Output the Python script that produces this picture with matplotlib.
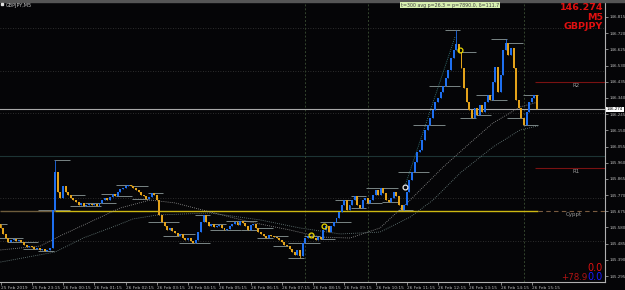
import numpy as np
import matplotlib
matplotlib.use("Agg")
import matplotlib.pyplot as plt
import matplotlib.transforms as mtransforms

# GBPJPY M5, 25 Feb 22:15 -> 26 Feb 15:25, one close per bar (12 bars per hour)
closes = [
    145.577, 145.542, 145.518, 145.495, 145.506, 145.512, 145.501, 145.506, 145.495, 145.477, 145.465, 145.471,
    145.465, 145.454, 145.460, 145.448, 145.454, 145.442, 145.448, 145.460, 145.683, 145.906, 145.788, 145.753,
    145.823, 145.788, 145.771, 145.753, 145.741, 145.729, 145.712, 145.724, 145.706, 145.712, 145.718, 145.712,
    145.718, 145.706, 145.724, 145.741, 145.753, 145.741, 145.759, 145.776, 145.765, 145.788, 145.806, 145.812,
    145.823, 145.829, 145.823, 145.812, 145.800, 145.788, 145.771, 145.765, 145.747, 145.759, 145.782, 145.771,
    145.741, 145.653, 145.612, 145.589, 145.565, 145.577, 145.559, 145.548, 145.530, 145.542, 145.518, 145.506,
    145.518, 145.501, 145.489, 145.506, 145.553, 145.612, 145.653, 145.612, 145.589, 145.600, 145.583, 145.589,
    145.595, 145.577, 145.565, 145.571, 145.589, 145.600, 145.612, 145.595, 145.618, 145.606, 145.589, 145.565,
    145.595, 145.600, 145.577, 145.553, 145.542, 145.530, 145.518, 145.536, 145.530, 145.524, 145.518, 145.506,
    145.495, 145.477, 145.471, 145.454, 145.436, 145.418, 145.448, 145.413, 145.489, 145.518, 145.530, 145.524,
    145.518, 145.506, 145.524, 145.512, 145.565, 145.589, 145.553, 145.589, 145.612, 145.636, 145.671, 145.712,
    145.741, 145.683, 145.712, 145.741, 145.765, 145.712, 145.694, 145.741, 145.753, 145.724, 145.741, 145.771,
    145.800, 145.771, 145.812, 145.782, 145.741, 145.729, 145.753, 145.788, 145.765, 145.712, 145.683, 145.712,
    145.788, 145.859, 145.906, 145.964, 146.023, 146.035, 146.093, 146.152, 146.181, 146.222, 146.269, 146.316,
    146.340, 146.375, 146.410, 146.457, 146.504, 146.575, 146.622, 146.657, 146.610, 146.516, 146.399, 146.316,
    146.269, 146.222, 146.281, 146.240, 146.299, 146.258, 146.316, 146.357, 146.328, 146.434, 146.522, 146.375,
    146.475, 146.622, 146.663, 146.592, 146.633, 146.516, 146.328, 146.281, 146.222, 146.181, 146.258, 146.316,
    146.340, 146.357, 146.274,
]
first_open = 145.600
wick_highs = {21: 145.976, 175: 146.739, 194: 146.686, 0: 145.600}
wick_lows = {115: 145.401, 20: 145.460}

# moving averages (bar, price)
fast_ma_bars = [0, 15.2, 22.8, 34.4, 45.9, 57.4, 67, 80.5, 95.8, 111.2, 122.7, 134.2, 145.7, 157.3, 170, 180.3, 189.1, 199.5, 206.4]
fast_ma_vals = [145.448, 145.471, 145.530, 145.612, 145.694, 145.741, 145.724, 145.671, 145.612, 145.565, 145.524,
                145.518, 145.577, 145.741, 145.935, 146.076, 146.193, 146.287, 146.316]
slow_ma_bars = [0, 21, 31.7, 42.1, 50.9, 60.1, 80.5, 99.7, 115, 130.4, 145.7, 157.3, 166.1, 176.5, 189.1, 199.5, 206.4]
slow_ma_vals = [145.377, 145.436, 145.518, 145.577, 145.630, 145.653, 145.665, 145.624, 145.577, 145.542, 145.553,
                145.641, 145.741, 145.900, 146.052, 146.152, 146.176]

zigzag_bars = [155.3, 174.5]
zigzag_vals = [145.823, 146.698]

yellow_marks = [(119.3, 145.536), (124.2, 145.589), (176.5, 146.622)]
white_marks = [(155.3, 145.818)]

price_now = 146.274
yellow_level = 145.677
r2_level = 146.434
r1_level = 145.929
round_level = 146.000
quarter_levels = [145.25, 145.50, 145.75, 146.25, 146.50, 146.75]
session_bars = [117, 141, 201]

price_ticks = [round(145.295 + 0.095 * k, 3) for k in range(17)]
time_tick_bars = [0] + list(range(12, 205, 12))
time_tick_labels = ["25 Feb 2019", "25 Feb 23:15"] + ["26 Feb %02d:15" % h for h in range(0, 16)]

BG = "#050507"
UP = "#1e6ff0"
DOWN = "#e3a21a"

fig = plt.figure(figsize=(6.25, 2.9), dpi=100, facecolor=BG)
ax = fig.add_axes([0, 8 / 290, 605 / 625, 279 / 290], facecolor=BG)
ax.set_xlim(-0.2, 232.1)
ax.set_ylim(145.260, 146.897)

n = len(closes)
bars = np.arange(n)
opens = np.array([first_open] + closes[:-1])
cl = np.array(closes)
highs = np.maximum(opens, cl)
lows = np.minimum(opens, cl)
for i, v in wick_highs.items():
    highs[i] = max(highs[i], v)
for i, v in wick_lows.items():
    lows[i] = min(lows[i], v)

# horizontal levels
for lv in quarter_levels:
    ax.axhline(lv, color="#3a3a3a", lw=0.6, ls=(0, (1, 2)), zorder=1)
ax.axhline(round_level, color="#1d3434", lw=0.8, zorder=1)
for b in session_bars:
    ax.axvline(b, color="#34442e", lw=0.7, ls=(0, (2, 2)), zorder=1)

# M30 high/low segments
starts = [0] + list(range(3, n, 6))
for k, s in enumerate(starts):
    e = starts[k + 1] - 1 if k + 1 < len(starts) else n - 1
    hi = highs[s:e + 1].max()
    lo = lows[s:e + 1].min()
    ax.hlines([hi, lo], s - 0.5, e + 0.5, color="#7a8585", lw=0.7, zorder=2)

ax.axhline(price_now, color="#a8a8a8", lw=0.8, zorder=2)
ax.hlines(yellow_level, -0.2, 21, color="#6e5c3c", lw=1.0, zorder=2)
ax.hlines(yellow_level, 21, 206.5, color="#cdb812", lw=1.0, zorder=2)
ax.hlines(yellow_level, 206.5, 232.1, color="#7a5c40", lw=0.8, ls=(0, (4, 3)), zorder=2)
ax.hlines([r2_level, r1_level], 205.3, 232.1, color="#7a1212", lw=0.8, zorder=2)
ax.text(219.5, r2_level - 0.008, "R2", color="#9a9a9a", fontsize=4, va="top")
ax.text(219.5, r1_level - 0.008, "R1", color="#9a9a9a", fontsize=4, va="top")
ax.text(217.0, yellow_level - 0.008, "Cyppt", color="#9a9a9a", fontsize=4, va="top")

# moving averages and zigzag leg
ax.plot(fast_ma_bars, fast_ma_vals, color="#9a9a9a", lw=0.6, ls=(0, (1, 1.5)), zorder=3)
ax.plot(slow_ma_bars, slow_ma_vals, color="#708585", lw=0.6, ls=(0, (1, 1.5)), zorder=3)
ax.plot(zigzag_bars, zigzag_vals, color="#3f8a8a", lw=0.6, ls=(0, (1, 1.5)), zorder=3)

# candles
colors = [UP if c >= o else DOWN for o, c in zip(opens, cl)]
ax.vlines(bars, lows, highs, color=colors, lw=0.6, zorder=4)
heights = np.maximum(np.abs(cl - opens), 0.003)
ax.bar(bars, heights, bottom=np.minimum(opens, cl), width=0.75, color=colors, linewidth=0, zorder=5)

for b, p in yellow_marks:
    ax.plot(b, p, "o", ms=3.5, mfc="none", mec="#e8d400", mew=0.9, zorder=6)
for b, p in white_marks:
    ax.plot(b, p, "o", ms=3.5, mfc="none", mec="#e8e8e8", mew=0.9, zorder=6)

# axes
for side in ["left", "top"]:
    ax.spines[side].set_visible(False)
for side in ["right", "bottom"]:
    ax.spines[side].set_color("#b0b0b0")
    ax.spines[side].set_linewidth(0.8)
ax.yaxis.tick_right()
ax.set_yticks(price_ticks)
ax.set_yticklabels(["%.3f" % t for t in price_ticks])
ax.set_xticks(time_tick_bars)
ax.set_xticklabels(time_tick_labels, ha="left")
ax.tick_params(colors="#b8b8b8", labelsize=3.1, length=2, width=0.5, pad=0.8)
ax.tick_params(axis="y", labelsize=2.9, pad=1.0)

trans = mtransforms.blended_transform_factory(ax.transAxes, ax.transData)
ax.text(1.003, price_now, "%.3f" % price_now, transform=trans, fontsize=2.9, color="black",
        va="center", ha="left", bbox=dict(facecolor="white", edgecolor="none", pad=0.4), zorder=7)

# overlay texts
fig.patches.append(plt.Rectangle((0, 1 - 2 / 290), 1, 2 / 290, transform=fig.transFigure, color="#555555"))
fig.patches.append(plt.Rectangle((1 / 625, 1 - 5 / 290), 2 / 625, 2 / 290, transform=fig.transFigure, color="#e0e0e0"))
fig.text(6 / 625, 1 - 2.5 / 290, "GBPJPY,M5", fontsize=3.5, color="#c8c8c8", va="top")
fig.text(401 / 625, 1 - 2.5 / 290, "t=300 avg p=26.3 = p=7890.0, δ=111.7", fontsize=3.4, color="#404040",
         va="top", bbox=dict(facecolor="#d7efb0", edgecolor="none", pad=0.6))
fig.text(603 / 625, 1 - 3 / 290, "146.274", fontsize=6.8, color="#e01010", weight="bold", ha="right", va="top")
fig.text(603 / 625, 1 - 13 / 290, "M5", fontsize=6.8, color="#e01010", weight="bold", ha="right", va="top")
fig.text(603 / 625, 1 - 22 / 290, "GBPJPY", fontsize=6.8, color="#e01010", weight="bold", ha="right", va="top")
fig.text(603 / 625, 1 - 271 / 290, "0.0", fontsize=7, color="#e01010", ha="right", va="baseline")
fig.text(587 / 625, 1 - 280 / 290, "+78.9", fontsize=6.2, color="#b01414", ha="right", va="baseline")
fig.text(603 / 625, 1 - 280 / 290, "0.0", fontsize=7, color="#1a1aff", ha="right", va="baseline")

fig.savefig("out.png", dpi=100, facecolor=BG)
